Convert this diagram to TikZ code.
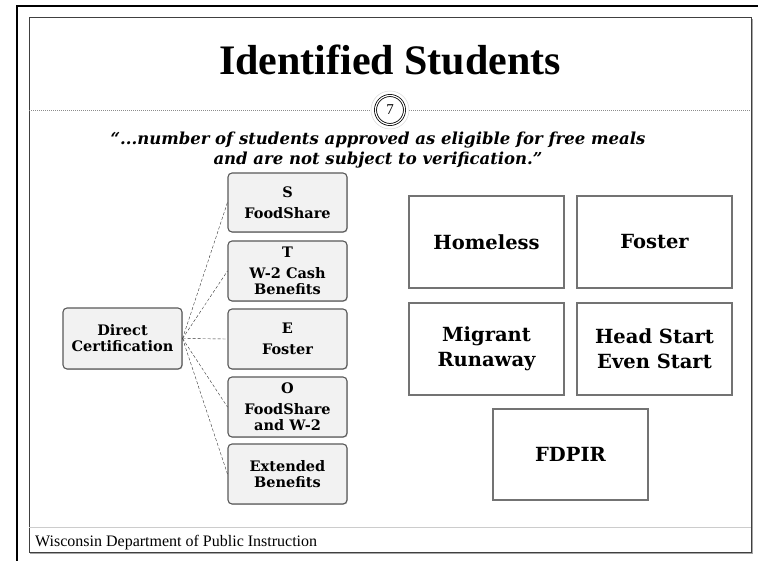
\documentclass[tikz,border=0pt]{standalone}
\usepackage{fontspec}
\setmainfont{DejaVu Serif}
\newfontfamily\titlefont{Liberation Serif}
\usetikzlibrary{shadows}
\begin{document}
\begin{tikzpicture}[x=1pt,y=-1pt,
  lbox/.style={draw=black!65, line width=1.1pt, rounded corners=4pt, fill=black!5,
    drop shadow={opacity=0.35, shadow xshift=0.8pt, shadow yshift=-0.8pt},
    minimum width=119pt, minimum height=59pt, align=center, inner sep=0pt,
    font=\bfseries\fontsize{14.5}{16}\selectfont},
  rbox/.style={draw=black!55, line width=1.1pt, fill=white,
    minimum width=155pt, minimum height=92pt, align=center, inner sep=0pt,
    font=\bfseries\fontsize{19.5}{25}\selectfont},
  conn/.style={densely dashed, line width=0.4pt, black!80}]
\useasboundingbox (0,0) rectangle (758,561);
% frames
\draw[line width=2.4pt, black] (17,561) -- (17,6) -- (758,6);
\draw[line width=1pt, black!75] (29,18) rectangle (751,552);
\draw[line width=1pt, black!35] (752,19) -- (752,553) -- (30,553);
\draw[line width=0.8pt, black!20] (29,527) -- (751,527);
\draw[line width=0.9pt, black!45, dash pattern=on 1pt off 1pt] (29,110) -- (751,110);
% title
\node[anchor=base, font=\titlefont\bfseries\fontsize{42}{46}\selectfont] (title) at (390,75) {Identified Students};
% circle
\node[circle, draw=black!15, fill=white, line width=0.5pt, minimum size=38pt, inner sep=0pt] (c0) at (390,110) {};
\node[circle, draw=black, double=white, double distance=1.2pt, line width=0.8pt, minimum size=29pt, inner sep=0pt, font=\titlefont\fontsize{15}{15}\selectfont] (c7) at (390,110) {7};
% quote
\node[align=center, font=\bfseries\itshape\fontsize{16.5}{20}\selectfont, anchor=base] (quote) at (378,165)
  {“...number of students approved as eligible for free meals\\ and are not subject to verification.”};
% left diagram
\node[lbox, minimum height=61pt] (dc) at (122.5,338.5) {Direct\\Certification};
\node[lbox] (s) at (287.5,202.5) {S\\[5pt]FoodShare};
\node[lbox, minimum height=60pt] (t) at (287.5,271) {T\\[5pt]W-2 Cash\\Benefits};
\node[lbox, minimum height=60pt] (e) at (287.5,339) {E\\[5pt]Foster};
\node[lbox, minimum height=60pt] (o) at (287.5,407) {O\\[5pt]FoodShare\\and W-2};
\node[lbox, minimum height=60pt] (x) at (287.5,474) {Extended\\Benefits};
\foreach \n in {s,t,e,o,x} \draw[conn] (dc.east) -- (\n.west);
% right boxes
\node[rbox] (home) at (486.5,242) {Homeless};
\node[rbox] (fost) at (654.5,242) {Foster};
\node[rbox] (mig) at (486.5,349) {Migrant\\Runaway};
\node[rbox] (head) at (654.5,349) {Head Start\\Even Start};
\node[rbox, minimum height=91pt] (fdp) at (570.5,454.5) {FDPIR};
% footer
\node[anchor=base west, font=\titlefont\fontsize{16}{16}\selectfont, inner sep=0pt] (foot) at (35,546) {Wisconsin Department of Public Instruction};
\end{tikzpicture}
\end{document}
